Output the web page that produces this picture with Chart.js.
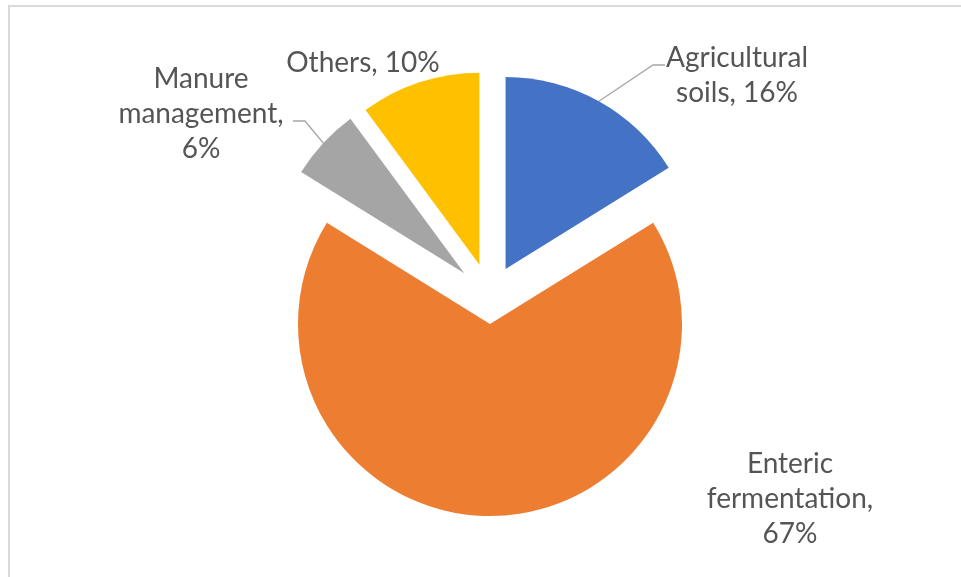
<!DOCTYPE html>
<html>
<head>
<meta charset="utf-8">
<title>Agricultural emissions by source</title>
<script src="https://cdn.jsdelivr.net/npm/chart.js@4.4.1/dist/chart.umd.min.js"></script>
<style>
  html, body { margin: 0; padding: 0; background: #fff; }
  #wrap { position: relative; width: 961px; height: 577px; }
</style>
</head>
<body>
<div id="wrap"><canvas id="emissionsPie"></canvas></div>
<script>
// Emission sources, share of total (%)
const categories = ['Agricultural soils', 'Enteric fermentation', 'Manure management', 'Others'];
const shares = [16, 67, 6, 10];
const sliceColors = ['#4472C4', '#ED7D31', '#A5A5A5', '#FFC000'];

// How far each slice is pulled away from the centre (px)
const explode = [32, 27, 35, 34];

// Words per line for each data label
const labelWrap = [[1, 2], [1, 1, 1], [1, 1, 1], [2]];

// Label blocks: centre x, first baseline y, optional leader line meeting the text
const labelSpots = [
    { x: 737, y: 67, leader: { x: 665, y: 65, dir: -1 } },
    { x: 790, y: 473 },
    { x: 201, y: 88, leader: { x: 293, y: 121, dir: 1 } },
    { x: 363, y: 72 }
];
const lineGap = 35;

// Light frame round the plot
const frame = {
    id: 'frame',
    beforeDraw(chart) {
        const ctx = chart.ctx;
        ctx.save();
        ctx.strokeStyle = '#D9D9D9';
        ctx.lineWidth = 2;
        ctx.strokeRect(9, 6, 2000, 2000);
        ctx.restore();
    }
};

// Draw each slice pushed out along its middle angle, then the labels
const explodedSlices = {
    id: 'explodedSlices',
    beforeDatasetDraw(chart, args) {
        const ctx = chart.ctx;
        args.meta.data.forEach((arc, i) => {
            const p = arc.getProps(['x', 'y', 'startAngle', 'endAngle', 'outerRadius']);
            const mid = (p.startAngle + p.endAngle) / 2;
            const cx = p.x + Math.cos(mid) * explode[i];
            const cy = p.y + Math.sin(mid) * explode[i];
            ctx.save();
            ctx.beginPath();
            ctx.moveTo(cx, cy);
            ctx.arc(cx, cy, p.outerRadius, p.startAngle, p.endAngle);
            ctx.closePath();
            ctx.fillStyle = arc.options.backgroundColor;
            ctx.fill();
            ctx.restore();
        });
        return false;
    },
    afterDatasetsDraw(chart) {
        const ctx = chart.ctx;
        const arcs = chart.getDatasetMeta(0).data;
        ctx.save();
        arcs.forEach((arc, i) => {
            const spot = labelSpots[i];

            // leader line: from the slice edge to an elbow, then flat into the text
            if (spot.leader) {
                const p = arc.getProps(['x', 'y', 'startAngle', 'endAngle', 'outerRadius']);
                const mid = (p.startAngle + p.endAngle) / 2;
                const r = p.outerRadius + explode[i];
                const ax = p.x + Math.cos(mid) * r;
                const ay = p.y + Math.sin(mid) * r;
                ctx.beginPath();
                ctx.moveTo(ax, ay);
                ctx.lineTo(spot.leader.x + spot.leader.dir * 12, spot.leader.y);
                ctx.lineTo(spot.leader.x, spot.leader.y);
                ctx.strokeStyle = '#A6A6A6';
                ctx.lineWidth = 1.3;
                ctx.stroke();
            }

            const words = (categories[i] + ', ' + shares[i] + '%').split(' ');
            ctx.font = '28px Lato';
            ctx.fillStyle = '#555555';
            ctx.textAlign = 'center';
            ctx.textBaseline = 'alphabetic';
            let k = 0;
            labelWrap[i].forEach((n, line) => {
                ctx.fillText(words.slice(k, k + n).join(' '), spot.x, spot.y + line * lineGap);
                k += n;
            });
        });
        ctx.restore();
    }
};

new Chart(document.getElementById('emissionsPie').getContext('2d'), {
    type: 'pie',
    data: {
        labels: categories,
        datasets: [{
            data: shares,
            backgroundColor: sliceColors,
            borderWidth: 0,
            radius: 192
        }]
    },
    options: {
        responsive: true,
        maintainAspectRatio: false,
        animation: false,
        layout: { padding: { left: 19, top: 17, right: 0, bottom: 0 } },
        plugins: {
            legend: { display: false },
            tooltip: { enabled: false }
        }
    },
    plugins: [frame, explodedSlices]
});
</script>
</body>
</html>
